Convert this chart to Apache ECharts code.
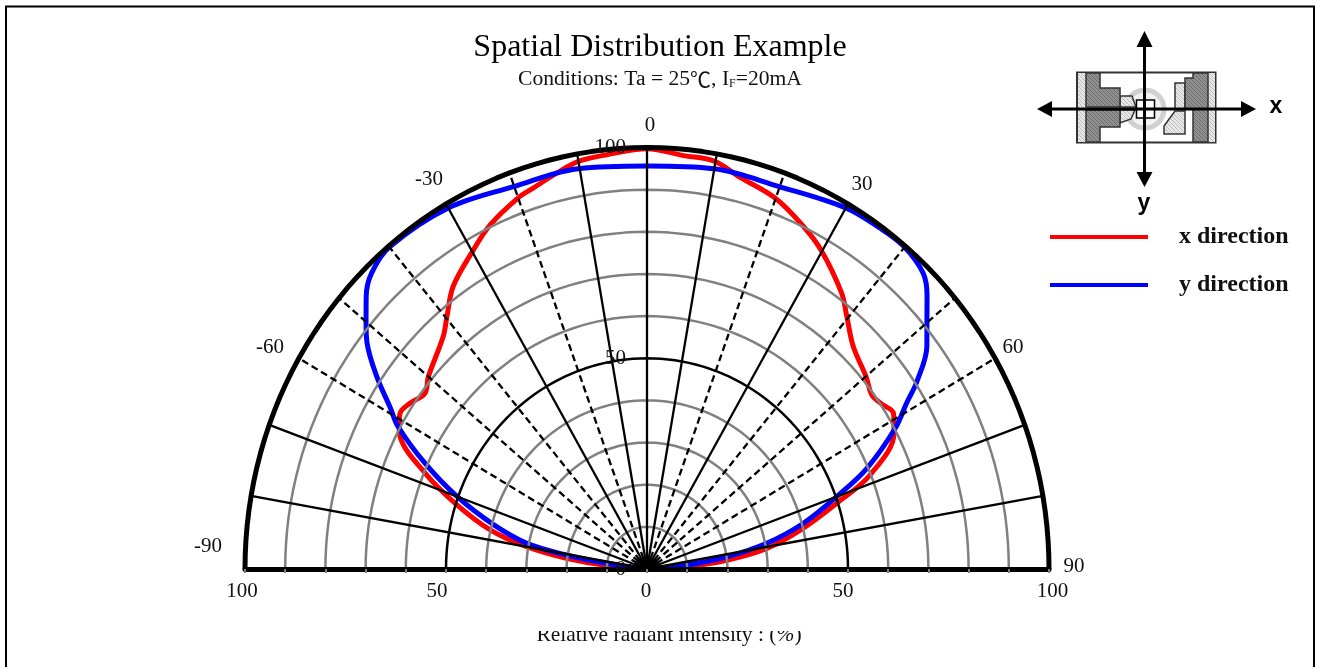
<!DOCTYPE html>
<html>
<head>
<meta charset="utf-8">
<title>Spatial Distribution Example</title>
<script src="https://cdn.jsdelivr.net/npm/echarts@6/dist/echarts.min.js"></script>
<style>
html, body { margin: 0; padding: 0; background: #fff; }
#main { width: 1323px; height: 667px; }
</style>
</head>
<body>
<div id="main"></div>
<script>
// values: angle in degrees, intensity in %
var xDirAngles = [-88, -85.4, -82.8, -80, -76.6, -71.9, -67.6, -62.9, -61, -58.9, -56.3, -53, -50, -42.6, -39.7, -35.7, -29.9, -25.5, -20, -17.4, -13.4, -10, -5.8, 0, 5.3, 9.8, 13.7, 19.9, 25.6, 30, 36.5, 39.9, 44.2, 50, 53.6, 55.8, 58.9, 60.3, 62.3, 68.1, 71.7, 76, 80.7, 84, 86.8, 88];
var xDirValues = [0, 10, 20.2, 30.4, 40.1, 50.2, 59.7, 69, 70.5, 71.7, 70.9, 69.2, 71, 74.9, 77.9, 82.6, 87, 90.5, 93.7, 94.7, 96.6, 98.2, 98.8, 99.7, 98.5, 98.2, 95.9, 93.6, 90.1, 87, 81.4, 77.6, 73.6, 71.1, 69.5, 70.1, 71.6, 70.7, 69.4, 59.8, 49.7, 40.1, 30.2, 19.9, 9.9, 0];
var yDirAngles = [-85, -82.3, -80.6, -78.5, -74.6, -70, -65.6, -61.4, -59.1, -55.8, -52.4, -50.1, -47.2, -44.3, -40, -30, -20.1, -10.2, 0, 10, 19.8, 29.9, 35.6, 39.8, 44.4, 47.1, 50, 52.8, 56.5, 58.6, 61.6, 66.4, 70, 74.4, 78.4, 81.7, 84.5, 86];
var yDirValues = [0, 10.1, 20.3, 30.5, 39.6, 50.3, 60.6, 70.5, 74.4, 81.3, 87.9, 91.1, 95.2, 98.1, 99.7, 98.9, 96.6, 96.5, 95.6, 96.4, 96.5, 98.9, 99.5, 99.7, 98.2, 95.1, 90.9, 87.4, 80.5, 75.7, 70.2, 59.7, 50.2, 40.4, 30.4, 20, 9.9, 0];

var seriesNames = ['x direction', 'y direction'];
var grayRings = [10, 20, 30, 40, 60, 70, 80, 90];
var blackRings = [50];
var solidSpokes = [-80, -70, -30, -10, 0, 10, 30, 70, 80];
var dashedSpokes = [-60, -50, -40, -20, 20, 40, 50, 60];
var angleLabels = ['-90', '-60', '-30', '0', '30', '60', '90'];
var angleLabelSpots = [[208, 546], [270, 347], [429, 179], [650, 125], [862, 184], [1013, 347], [1074, 566]];

// the plot is a stretched half circle, so polar values go on a plain x/y grid
function toXY(angle, r) {
    var a = angle * Math.PI / 180;
    return [r * Math.sin(a), r * Math.cos(a)];
}
function ringData(r) {
    var out = [];
    for (var a = -90; a <= 90; a += 2) out.push(toXY(a, r));
    return out;
}
function lineSeries(data, color, width, z, extra) {
    var s = {
        type: 'line', data: data, z: z, clip: false, silent: true, showSymbol: false,
        symbol: 'none', animation: false,
        lineStyle: { color: color, width: width }
    };
    if (extra) {
        if (extra.dash) s.lineStyle.type = extra.dash;
        if (extra.name) s.name = extra.name;
        if (extra.smooth) s.smooth = extra.smooth;
        if (extra.name) s.itemStyle = { color: color };
    }
    return s;
}

var series = [];
series.push(lineSeries(xDirAngles.map(function (a, i) { return toXY(a, xDirValues[i]); }), '#ff0000', 5, 2, { name: seriesNames[0], smooth: 0.35 }));
series.push(lineSeries(yDirAngles.map(function (a, i) { return toXY(a, yDirValues[i]); }), '#0000ff', 5, 3, { name: seriesNames[1], smooth: 0.35 }));
grayRings.forEach(function (r) { series.push(lineSeries(ringData(r), '#808080', 2.5, 4)); });
blackRings.forEach(function (r) { series.push(lineSeries(ringData(r), '#000', 2.5, 5)); });
solidSpokes.forEach(function (a) { series.push(lineSeries([[0, 0], toXY(a, 100)], '#000', 2.3, 5)); });
dashedSpokes.forEach(function (a) { series.push(lineSeries([[0, 0], toXY(a, 100)], '#000', 2.3, 5, { dash: [7, 4] })); });
series.push(lineSeries(ringData(100), '#000', 5, 6));

var serif = '"Liberation Serif", serif';
var graphics = [];
angleLabels.forEach(function (t, i) {
    graphics.push({
        type: 'text', x: angleLabelSpots[i][0], y: angleLabelSpots[i][1], z: 20,
        style: { text: t, font: '21px ' + serif, fill: '#111', align: 'center', verticalAlign: 'middle' }
    });
});
// spokes run together into a black blot at the centre
graphics.push({ type: 'ellipse', shape: { cx: 647, cy: 564, rx: 12, ry: 6 }, style: { fill: '#000' }, z: 8 });
// white strip that cuts the top of the axis title, as in the source image
graphics.push({ type: 'rect', shape: { x: 520, y: 612, width: 300, height: 19 }, style: { fill: '#fff' }, z: 30 });
// page frame
graphics.push({ type: 'polyline', shape: { points: [[6, 667], [6, 6.5], [1314, 6.5], [1314, 667]] }, style: { stroke: '#000', lineWidth: 2, fill: null }, z: 20 });

// hatch fill for the LED package sketch
function hatch(bg, fg) {
    var c = document.createElement('canvas');
    c.width = 4; c.height = 4;
    var g = c.getContext('2d');
    g.fillStyle = bg; g.fillRect(0, 0, 4, 4);
    g.strokeStyle = fg; g.lineWidth = 1;
    g.beginPath(); g.moveTo(0, 0); g.lineTo(4, 4); g.stroke();
    return { image: c, repeat: 'repeat' };
}
var pkgDark = hatch('#8f8f8f', '#6e6e6e'), pkgLight = hatch('#e6e6e6', '#bdbdbd'), pkgLine = '#333';
function poly(points, fill, z) {
    graphics.push({ type: 'polygon', shape: { points: points }, style: { fill: fill, stroke: pkgLine, lineWidth: 1.5 }, z: z || 10 });
}
graphics.push({ type: 'rect', shape: { x: 1077, y: 72.5, width: 138.5, height: 70 }, style: { fill: '#fff', stroke: pkgLine, lineWidth: 2 }, z: 9 });
graphics.push({ type: 'rect', shape: { x: 1078, y: 73, width: 9, height: 69 }, style: { fill: pkgLight }, z: 10 });
graphics.push({ type: 'rect', shape: { x: 1208, y: 73, width: 7, height: 69 }, style: { fill: pkgLight }, z: 10 });
graphics.push({ type: 'circle', shape: { cx: 1145, cy: 109, r: 19 }, style: { fill: '#f2f2f2', stroke: '#d0d0d0', lineWidth: 5 }, z: 10 });
poly([[1120, 96], [1132, 96], [1136, 107], [1120, 107]], pkgLight);
poly([[1120, 110], [1135, 110], [1131, 119], [1120, 123]], pkgLight);
poly([[1086, 73], [1100, 73], [1100, 88], [1120, 88], [1120, 107], [1086, 107]], pkgDark);
poly([[1086, 142], [1100, 142], [1100, 127], [1120, 127], [1120, 110], [1086, 110]], pkgDark);
poly([[1175, 83], [1185, 83], [1185, 109], [1175, 109]], pkgLight);
poly([[1185, 78], [1193, 78], [1193, 73], [1208, 73], [1208, 109], [1185, 109]], pkgDark);
poly([[1193, 109], [1208, 109], [1208, 142], [1193, 142]], pkgDark);
poly([[1175, 111], [1185, 111], [1185, 134], [1164, 134], [1164, 126]], pkgLight);
graphics.push({ type: 'rect', shape: { x: 1136.5, y: 100, width: 18, height: 18 }, style: { fill: '#fff', stroke: '#000', lineWidth: 1.5 }, z: 11 });

// direction arrows
graphics.push({ type: 'line', shape: { x1: 1050, y1: 109, x2: 1243, y2: 109 }, style: { stroke: '#000', lineWidth: 3 }, z: 12 });
graphics.push({ type: 'line', shape: { x1: 1144.5, y1: 44, x2: 1144.5, y2: 174 }, style: { stroke: '#000', lineWidth: 3 }, z: 12 });
graphics.push({ type: 'polygon', shape: { points: [[1037, 109], [1052, 101], [1052, 117]] }, style: { fill: '#000' }, z: 12 });
graphics.push({ type: 'polygon', shape: { points: [[1256, 109], [1241, 101], [1241, 117]] }, style: { fill: '#000' }, z: 12 });
graphics.push({ type: 'polygon', shape: { points: [[1144.5, 31], [1136.5, 47], [1152.5, 47]] }, style: { fill: '#000' }, z: 12 });
graphics.push({ type: 'polygon', shape: { points: [[1144.5, 187], [1136.5, 172], [1152.5, 172]] }, style: { fill: '#000' }, z: 12 });
graphics.push({ type: 'text', x: 1276, y: 107, z: 12, style: { text: 'x', font: 'bold 23px "Liberation Sans", sans-serif', fill: '#000', align: 'center', verticalAlign: 'middle' } });
graphics.push({ type: 'text', x: 1144, y: 204, z: 12, style: { text: 'y', font: 'bold 23px "Liberation Sans", sans-serif', fill: '#000', align: 'center', verticalAlign: 'middle' } });

var tickText = { fontFamily: serif, fontSize: 21, color: '#111' };
var subText = { fontFamily: serif, fontSize: 21.6, fontWeight: 'normal', color: '#111' };
var option = {
    backgroundColor: '#fff',
    animation: false,
    textStyle: { fontFamily: serif },
    title: [
        { text: 'Spatial Distribution Example', left: 660, top: 32, textAlign: 'center', padding: 0, textStyle: { fontFamily: serif, fontSize: 32, fontWeight: 'normal', color: '#000' } },
        {
            text: '{a|Conditions: Ta = 25}{c|℃}{a|, I}{s|F}{a|=20mA}', left: 660, top: 68, textAlign: 'center', padding: 0,
            textStyle: {
                fontWeight: 'normal',
                rich: {
                    a: subText,
                    c: { fontFamily: '"Noto Sans CJK SC"', fontSize: 21, fontWeight: 'normal', color: '#111' },
                    s: { fontFamily: serif, fontSize: 12, fontWeight: 'normal', color: '#111', verticalAlign: 'bottom', padding: [6, 0, 0, 0] }
                }
            }
        },
        {
            text: '{a|Relative radiant intensity : (}{i|%}{a|)}', left: 669, top: 624, textAlign: 'center', padding: 0,
            textStyle: { fontWeight: 'normal', rich: { a: { fontFamily: serif, fontSize: 21.5, fontWeight: 'normal', color: '#111' }, i: { fontFamily: serif, fontSize: 21.5, fontWeight: 'normal', fontStyle: 'italic', color: '#111' } } }
        }
    ],
    legend: {
        data: seriesNames, orient: 'vertical', left: 1050, top: 225, itemWidth: 98, itemHeight: 4, itemGap: 24,
        icon: 'rect', selectedMode: false, padding: 0,
        textStyle: { fontFamily: serif, fontSize: 24, fontWeight: 'bold', color: '#111', padding: [0, 0, 0, 26] }
    },
    grid: { left: 245, top: 147.5, width: 804, height: 421.5 },
    xAxis: {
        type: 'value', min: -100, max: 100, interval: 50, z: 10,
        axisLine: { lineStyle: { color: '#000', width: 5 } },
        axisTick: { show: true, length: 4, lineStyle: { color: '#808080', width: 2 } },
        minorTick: { show: true, splitNumber: 5, length: 4, lineStyle: { color: '#808080', width: 2 } },
        splitLine: { show: false },
        axisLabel: {
            margin: 12, showMinLabel: true, showMaxLabel: true,
            formatter: function (v) {
                var tag = v === -100 ? 'lh' : v === -50 ? 'lf' : v === 50 ? 'rf' : v === 100 ? 'rh' : 'z';
                return '{' + tag + '|' + Math.abs(v) + '}';
            },
            // the source labels sit a little off their ticks
            rich: {
                lh: Object.assign({ padding: [0, 6, 0, 0] }, tickText),
                lf: Object.assign({ padding: [0, 18, 0, 0] }, tickText),
                z: Object.assign({ padding: [0, 2, 0, 0] }, tickText),
                rf: Object.assign({ padding: [0, 10, 0, 0] }, tickText),
                rh: Object.assign({ padding: [0, 0, 0, 7] }, tickText)
            }
        }
    },
    yAxis: {
        type: 'value', min: 0, max: 100, interval: 50, z: 11, offset: -402,
        axisLine: { show: false, onZero: false },
        axisTick: { show: false },
        splitLine: { show: false },
        axisLabel: { margin: 21, fontSize: 21, color: '#111', fontFamily: serif, showMinLabel: true, showMaxLabel: true }
    },
    series: series,
    graphic: { elements: graphics }
};

var myChart = echarts.init(document.getElementById('main'));
myChart.setOption(option);
</script>
</body>
</html>
